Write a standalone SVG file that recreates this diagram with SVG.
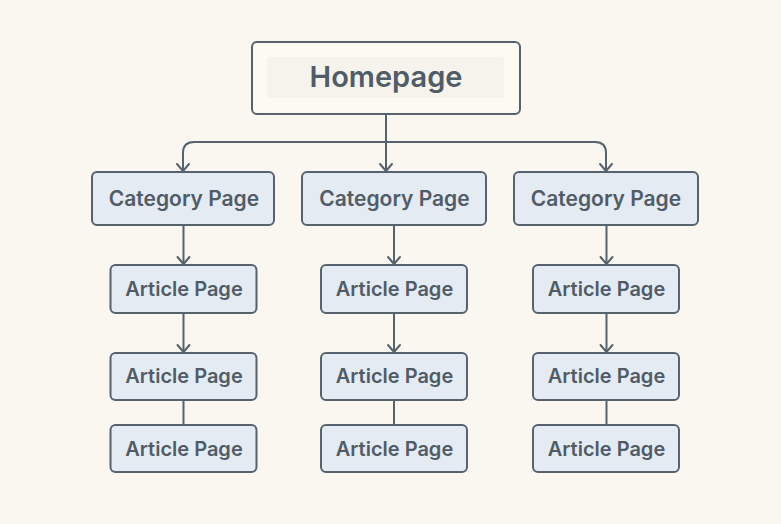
<svg xmlns="http://www.w3.org/2000/svg" width="781" height="524" viewBox="0 0 781 524">
<style>
.n{fill:#e4ebf3;stroke:#56626d;stroke-width:2}
.t{font-family:Inter,"Liberation Sans",sans-serif;font-weight:600;fill:#505c66;text-anchor:middle}
.c{font-size:21px}
.a{font-size:20px}
.l{fill:none;stroke:#56626d;stroke-width:2}
.h{fill:none;stroke:#56626d;stroke-width:2;stroke-linecap:round;stroke-linejoin:round}
</style>
<defs>
<path id="ah" class="h" d="M-6 -7L0 0L6 -7"/>
</defs>
<rect width="781" height="524" fill="#faf6f0"/>
<g id="connectors">
<path class="l" d="M386 114V171"/>
<path class="l" d="M183 171V153Q183 142 194 142H595Q606 142 606 153V171"/>
<path class="l" d="M183.500 225V264"/><path class="l" d="M394 225V264"/><path class="l" d="M606.500 225V264"/>
<path class="l" d="M183.500 313V352"/><path class="l" d="M394 313V352"/><path class="l" d="M606.500 313V352"/>
<path class="l" d="M183.500 400V425"/><path class="l" d="M394 400V425"/><path class="l" d="M606.500 400V425"/>
<use href="#ah" x="183" y="171"/><use href="#ah" x="386" y="171"/><use href="#ah" x="606" y="171"/>
<use href="#ah" x="183.500" y="264"/><use href="#ah" x="394" y="264"/><use href="#ah" x="606.500" y="264"/>
<use href="#ah" x="183.500" y="352"/><use href="#ah" x="394" y="352"/><use href="#ah" x="606.500" y="352"/>
</g>
<g id="homepage">
<rect x="252" y="42" width="268" height="72" rx="5" fill="#fdfaf2" stroke="#56626d" stroke-width="2"/>
<rect x="267" y="57" width="237" height="41" rx="3" fill="#f6f3ec"/>
<text class="t" x="386" y="87" font-size="29">Homepage</text>
</g>
<g id="category-1"><rect class="n" x="92" y="172" width="182" height="53" rx="5"/><text class="t c" x="184" y="206">Category Page</text></g>
<g id="category-2"><rect class="n" x="302" y="172" width="184" height="53" rx="5"/><text class="t c" x="394.500" y="206">Category Page</text></g>
<g id="category-3"><rect class="n" x="514" y="172" width="184" height="53" rx="5"/><text class="t c" x="606" y="206">Category Page</text></g>
<g id="article-1-1"><rect class="n" x="110.500" y="265" width="146" height="48" rx="5"/><text class="t a" x="184" y="296">Article Page</text></g>
<g id="article-1-2"><rect class="n" x="110.500" y="353" width="146" height="47" rx="5"/><text class="t a" x="184" y="383">Article Page</text></g>
<g id="article-1-3"><rect class="n" x="110.500" y="425" width="146" height="47" rx="5"/><text class="t a" x="184" y="456">Article Page</text></g>
<g id="article-2-1"><rect class="n" x="321" y="265" width="146" height="48" rx="5"/><text class="t a" x="394.500" y="296">Article Page</text></g>
<g id="article-2-2"><rect class="n" x="321" y="353" width="146" height="47" rx="5"/><text class="t a" x="394.500" y="383">Article Page</text></g>
<g id="article-2-3"><rect class="n" x="321" y="425" width="146" height="47" rx="5"/><text class="t a" x="394.500" y="456">Article Page</text></g>
<g id="article-3-1"><rect class="n" x="533" y="265" width="146" height="48" rx="5"/><text class="t a" x="606.500" y="296">Article Page</text></g>
<g id="article-3-2"><rect class="n" x="533" y="353" width="146" height="47" rx="5"/><text class="t a" x="606.500" y="383">Article Page</text></g>
<g id="article-3-3"><rect class="n" x="533" y="425" width="146" height="47" rx="5"/><text class="t a" x="606.500" y="456">Article Page</text></g>
</svg>
